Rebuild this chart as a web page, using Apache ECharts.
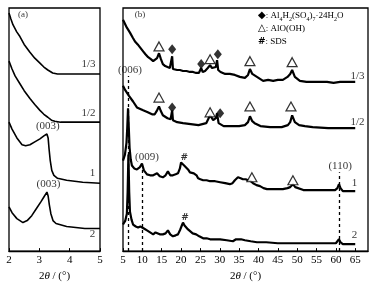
<!DOCTYPE html>
<html>
<head>
<meta charset="utf-8">
<script src="https://cdn.jsdelivr.net/npm/echarts@6/dist/echarts.min.js"></script>
<style>
html,body{margin:0;padding:0;background:#fff;}
#main{width:378px;height:287px;}
</style>
</head>
<body>
<div id="main"></div>
<script>
// (a) low angle, 2theta / intensity (offset, a.u.)
var a13 = [[2.0,242],[2.06,236],[2.13,230],[2.25,223],[2.36,218],[2.5,210],[2.69,202],[2.85,196],[3.02,191],[3.15,187],[3.28,184],[3.44,181],[3.6,180],[4.0,180],[4.5,180],[5.0,180]];
var a12 = [[2.0,193],[2.1,185],[2.2,178],[2.36,170],[2.5,163],[2.69,155],[2.85,149],[3.02,143],[3.15,139],[3.28,136],[3.4,133],[3.51,132],[3.7,131],[4.0,131],[4.5,131],[5.0,131]];
var a1 = [[2.0,131],[2.1,124],[2.26,115],[2.43,108],[2.55,107],[2.69,108],[2.85,111],[3.02,114],[3.15,117],[3.25,119],[3.29,115],[3.32,104],[3.36,92],[3.41,82],[3.48,77],[3.6,74],[3.9,72],[4.43,70],[5.0,69]];
var a2 = [[2.0,45],[2.1,39],[2.26,33],[2.46,29],[2.6,31],[2.75,36],[2.9,43],[3.05,50],[3.15,55],[3.25,60],[3.29,56],[3.33,47],[3.38,38],[3.45,31],[3.55,28],[3.9,25],[4.5,23],[5.0,23]];

// (b) wide angle
var b13 = [[5.0,235],[5.5,231],[6.0,227],[6.8,222],[7.5,217],[8.1,213],[8.8,210],[9.4,207],[10.2,203],[10.8,200],[11.5,197],[12.2,195],[12.8,193],[13.3,192],[13.8,196],[14.3,201],[14.8,195],[15.3,190],[15.9,188],[16.4,187],[17.1,186],[17.5,186],[17.7,198],[17.9,185],[18.4,185],[19.0,184],[19.7,184],[20.5,183],[21.4,183],[22.3,182],[23.1,182],[23.9,181],[24.6,181],[25.2,186],[25.6,182],[26.2,183],[26.9,186],[27.5,189],[28.0,186],[28.5,185],[29.0,187],[29.3,194],[29.6,184],[30.2,182],[31.4,180],[32.6,180],[33.9,179],[35.2,177],[36.5,176],[37.3,179],[37.8,185],[38.4,180],[39.6,177],[41.2,173],[42.5,174],[43.8,173],[45.0,174],[46.3,174],[47.5,177],[48.2,180],[48.7,184],[49.4,177],[50.7,173],[52.4,172],[54.1,172],[55.9,172],[57.7,172],[59.4,171],[61.1,172],[63.0,172],[65.0,172]];
var b12 = [[5.0,168],[5.5,164],[6.5,158],[7.6,152],[8.6,146],[10.2,143],[11.4,141],[12.5,139],[13.2,139],[13.8,143],[14.3,147],[14.8,142],[15.3,138],[16.5,135],[17.3,134],[17.5,134],[17.7,143],[17.9,133],[19.0,131],[20.5,130],[22.5,129],[24.5,128],[25.5,129],[26.5,130],[27.5,138],[28.3,133],[29.0,135],[29.3,140],[29.7,130],[31.0,127],[33.0,127],[35.0,127],[36.5,128],[37.3,131],[37.8,137],[38.4,132],[39.0,130],[40.5,127],[43.0,126],[46.0,126],[47.6,128],[48.2,131],[48.7,138],[49.4,131],[50.5,128],[52.0,127],[54.0,126],[58.0,125],[61.0,125],[65.0,125]];
var b1 = [[5.0,92],[5.5,98],[5.9,110],[6.1,125],[6.3,145],[6.5,125],[6.7,105],[7.0,93],[7.3,87],[7.9,84],[8.6,83],[9.3,85],[9.9,89],[10.4,82],[11.2,78],[12.0,77],[12.8,77],[13.8,79],[14.5,76],[15.3,75],[16.0,77],[16.6,81],[17.2,77],[17.9,77],[18.6,78],[19.2,79],[19.7,84],[20.0,90],[20.4,88],[20.8,87],[21.3,85],[21.8,83],[22.3,80],[22.8,78],[23.3,79],[23.6,81],[24.0,77],[24.4,74],[25.0,73],[25.7,72],[26.6,72],[27.5,71],[28.8,71],[30.1,70],[31.4,69],[32.6,68],[33.3,69],[33.9,72],[34.7,75],[35.4,74],[36.0,73],[36.7,73],[37.3,72],[38.0,71],[38.6,69],[39.5,67],[40.4,66],[41.3,64],[42.2,63],[44.0,63],[46.3,63],[47.5,64],[48.2,65],[48.9,68],[49.5,65],[50.0,63],[51.6,62],[53.3,62],[55.0,62],[56.7,62],[58.2,62],[59.8,62],[60.4,64],[60.8,68],[61.2,64],[61.8,61],[63.4,61],[65.0,61]];
var b2 = [[5.0,27],[5.6,31],[6.0,38],[6.2,60],[6.4,98],[6.6,60],[6.8,40],[7.2,32],[7.6,27],[8.3,25],[8.9,24],[9.5,25],[9.9,27],[10.4,23],[11.2,21],[12.0,19],[12.8,17],[13.4,19],[13.8,18],[14.5,17],[15.3,17],[16.0,18],[16.6,21],[17.2,17],[17.9,15],[18.6,16],[19.2,17],[19.8,22],[20.2,26],[20.5,29],[20.9,26],[21.3,25],[21.8,22],[22.3,20],[23.0,18],[23.4,19],[23.9,17],[24.7,15],[25.7,13],[26.6,13],[27.5,12],[28.8,12],[30.1,12],[31.8,11],[33.4,10],[34.2,12],[34.7,13],[35.5,12],[36.5,11],[38.0,10],[39.6,9],[42.0,9],[45.0,8],[48.2,8],[52.0,8],[56.7,8],[58.5,8],[60.0,8],[60.5,10],[60.8,12],[61.2,9],[61.8,7],[63.4,7],[65.0,7]];

// phase markers
var triangles = [[14.3,208],[27.5,195],[37.8,193],[48.7,192],[14.3,156],[27.5,141],[37.8,147],[48.4,147],[38.3,75],[48.9,72]];
var diamonds = [[17.7,205],[25.2,190],[29.5,200],[17.7,146],[30.1,140]];
// reflections: 2theta, top of dashed line
var refX = [6.4, 9.9, 60.8];
var refTop = [178, 85, 80];

// text labels [2theta, intensity, text]
var aText = [[2.46,240,'(a)'],[4.62,190,'1/3'],[4.62,140,'1/2'],[3.28,127,'(003)'],[4.75,79,'1'],[3.3,68,'(003)'],[4.75,17,'2']];
var bText = [[9.4,240,'(b)'],[65.6,178,'1/3'],[65.6,131,'1/2'],[64.8,69,'1'],[64.8,16,'2'],[6.8,184,'(006)'],[11.2,95,'(009)'],[61.1,86,'(110)'],[20.8,95,'#'],[21.0,34,'#']];

var serif = 'Liberation Serif';

function textSeries(list, idx) {
    return {
        type: 'scatter', xAxisIndex: idx, yAxisIndex: idx,
        symbolSize: 0, silent: true, z: 5,
        label: {show: true, position: 'inside', color: '#000', fontFamily: serif, fontSize: 11,
            formatter: function (p) { return p.name; }},
        data: list.map(function (t) {
            var d = {value: [t[0], t[1]], name: t[2]};
            if (t[2] == '(a)' || t[2] == '(b)') d.label = {fontSize: 9};
            if (t[2] == '#') d.label = {fontWeight: 'bold', fontFamily: 'DejaVu Sans', fontSize: 9};
            return d;
        })
    };
}

function lineSeries(data, idx, w) {
    return {type: 'line', xAxisIndex: idx, yAxisIndex: idx, data: data, showSymbol: false,
        lineStyle: {color: '#000', width: w}, silent: true};
}

var xName = {
    name: '2{i|θ} / (°)', nameLocation: 'middle', nameGap: 18,
    nameTextStyle: {fontFamily: serif, fontSize: 11, color: '#000',
        rich: {i: {fontFamily: serif, fontSize: 11, fontStyle: 'italic', color: '#000'}}}
};

var chart = echarts.init(document.getElementById('main'), null, {renderer: 'canvas'});
option = {
    animation: false,
    backgroundColor: '#fff',
    grid: [
        {left: 9, right: 278, top: 8, bottom: 32, show: true, borderColor: '#000', borderWidth: 1.3},
        {left: 123, right: 10, top: 8, bottom: 32, show: true, borderColor: '#000', borderWidth: 1.3}
    ],
    xAxis: [
        Object.assign({gridIndex: 0, type: 'value', min: 2, max: 5, interval: 1,
            axisLine: {lineStyle: {color: '#000', width: 1.3}},
            axisTick: {inside: true, length: 3, lineStyle: {color: '#000'}},
            axisLabel: {color: '#000', fontFamily: serif, fontSize: 11, margin: 4},
            splitLine: {show: false}}, xName),
        Object.assign({gridIndex: 1, type: 'value', min: 5, max: 68.3, interval: 5,
            axisLine: {lineStyle: {color: '#000', width: 1.3}},
            axisTick: {inside: true, length: 3, lineStyle: {color: '#000'}},
            axisLabel: {color: '#000', fontFamily: serif, fontSize: 11, margin: 4, showMaxLabel: false},
            splitLine: {show: false}}, xName)
    ],
    yAxis: [
        {gridIndex: 0, type: 'value', min: 0, max: 247, show: false},
        {gridIndex: 1, type: 'value', min: 0, max: 247, show: false}
    ],
    graphic: [{
        type: 'text', left: 258, top: 9, z: 10,
        style: {
            text: '{d|◆}: Al{s|4}H{s|2}(SO{s|4}){s|7}·24H{s|2}O\n{d|△}: AlO(OH)\n{b|#}: SDS',
            fontFamily: serif, fontSize: 9, lineHeight: 13, fill: '#000',
            rich: {
                s: {fontFamily: serif, fontSize: 6, verticalAlign: 'bottom', lineHeight: 9, fill: '#000'},
                d: {fontFamily: 'DejaVu Sans', fontSize: 10, fill: '#000'},
                b: {fontFamily: 'DejaVu Sans', fontWeight: 'bold', fontSize: 9, fill: '#000'}
            }
        }
    }],
    series: [
        lineSeries(a13, 0, 1.6),
        lineSeries(a12, 0, 1.6),
        lineSeries(a1, 0, 1.6),
        lineSeries(a2, 0, 1.6),
        lineSeries(b13, 1, 2.2),
        lineSeries(b12, 1, 2.2),
        lineSeries(b1, 1, 2.2),
        {
            type: 'line', xAxisIndex: 1, yAxisIndex: 1, data: b2, showSymbol: false,
            lineStyle: {color: '#000', width: 2.2}, silent: true,
            markLine: {
                silent: true, symbol: 'none', label: {show: false},
                lineStyle: {color: '#000', type: [3, 3], width: 1.3},
                data: refX.map(function (x, i) {
                    return [{coord: [x, 0]}, {coord: [x, refTop[i]]}];
                })
            }
        },
        {
            type: 'scatter', xAxisIndex: 1, yAxisIndex: 1, data: triangles, z: 6,
            symbol: 'triangle', symbolSize: [10, 9], silent: true,
            itemStyle: {color: '#fff', borderColor: '#000', borderWidth: 1.2}
        },
        {
            type: 'scatter', xAxisIndex: 1, yAxisIndex: 1, data: diamonds, z: 6,
            symbol: 'diamond', symbolSize: [8, 10], silent: true,
            itemStyle: {color: '#000'}
        },
        textSeries(aText, 0),
        textSeries(bText, 1)
    ]
};
chart.setOption(option);
</script>
</body>
</html>
